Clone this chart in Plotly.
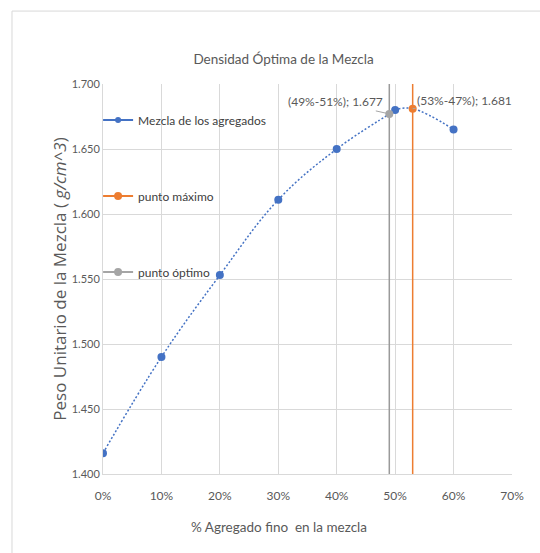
import plotly.graph_objects as go

# Measured unit weight of the aggregate blend vs. fine aggregate share
fino = [0.0, 0.10, 0.20, 0.30, 0.40, 0.50, 0.60]
peso = [1.416, 1.490, 1.553, 1.611, 1.650, 1.680, 1.665]

# Highlighted points
max_x, max_y, max_label = [0.53], [1.681], ["(53%-47%); 1.681"]
opt_x, opt_y, opt_label = [0.49], [1.677], ["(49%-51%); 1.677"]

x_ticks = [0.0, 0.1, 0.2, 0.3, 0.4, 0.5, 0.6, 0.7]
y_ticks = [1.400, 1.450, 1.500, 1.550, 1.600, 1.650, 1.700]
y_lo, y_hi = 1.400, 1.700

BLUE, ORANGE, GRAY = "#4472C4", "#ED7D31", "#A5A5A5"
TXT = "#595959"
GRID = "#D9D9D9"
FONT = "Lato, sans-serif"

# Smoothed curve passes through the blend points and the two highlighted points
curve = sorted(zip(fino + opt_x + max_x, peso + opt_y + max_y))
curve_x = [c[0] for c in curve]
curve_y = [c[1] for c in curve]

fig = go.Figure()

fig.add_trace(go.Scatter(
    x=curve_x, y=curve_y, mode="lines", showlegend=False, hoverinfo="skip",
    line=dict(color=BLUE, width=1.5, dash="2px,2px", shape="spline", smoothing=1.1),
))

fig.add_trace(go.Scatter(
    x=fino, y=peso, mode="markers", showlegend=False,
    marker=dict(color=BLUE, size=8),
))
# legend entry with line + marker glyph
fig.add_trace(go.Scatter(
    x=[None], y=[None], mode="lines+markers", name="Mezcla de los agregados",
    legendgroup="a",
    line=dict(color=BLUE, width=2), marker=dict(color=BLUE, size=6),
))

fig.add_trace(go.Scatter(
    x=max_x, y=max_y, mode="lines+markers", name="punto máximo",
    legendgroup="b",
    line=dict(color=ORANGE, width=2),
    marker=dict(color=ORANGE, size=8),
    error_y=dict(type="data", symmetric=False,
                 array=[y_hi - v for v in max_y],
                 arrayminus=[v - y_lo for v in max_y],
                 color=ORANGE, thickness=1.5, width=0),
))

fig.add_trace(go.Scatter(
    x=opt_x, y=opt_y, mode="lines+markers", name="punto óptimo",
    legendgroup="c",
    line=dict(color=GRAY, width=2),
    marker=dict(color=GRAY, size=8),
    error_y=dict(type="data", symmetric=False,
                 array=[y_hi - v for v in opt_y],
                 arrayminus=[v - y_lo for v in opt_y],
                 color="#9A9A9A", thickness=1.5, width=0),
))

# Data labels with leader lines
fig.add_annotation(x=opt_x[0], y=opt_y[0], text=opt_label[0], showarrow=True,
                   ax=-54, ay=-12, arrowhead=0, arrowwidth=1, arrowcolor="#A6A6A6",
                   font=dict(family=FONT, size=12, color=TXT))
fig.add_annotation(x=max_x[0], y=max_y[0], text=max_label[0], showarrow=True,
                   ax=52, ay=-8, arrowhead=0, arrowwidth=1, arrowcolor="#A6A6A6",
                   font=dict(family=FONT, size=12, color=TXT))

# X axis title (sits slightly left of the plot centre)
fig.add_annotation(x=0.43, y=-0.135, xref="paper", yref="paper",
                   text="% Agregado fino  en la mezcla", showarrow=False,
                   xanchor="center", yanchor="middle",
                   font=dict(family=FONT, size=13.5, color=TXT))

# Chart area frame (left and top edges)
fig.add_shape(type="line", xref="paper", yref="paper",
              x0=-0.2225, x1=-0.2225, y0=-0.3, y1=1.187,
              line=dict(color=GRID, width=1))
fig.add_shape(type="line", xref="paper", yref="paper",
              x0=-0.2225, x1=1.2, y0=1.187, y1=1.187,
              line=dict(color=GRID, width=1))

fig.update_layout(
    width=540, height=553,
    margin=dict(l=103, r=28, t=84, b=79),
    paper_bgcolor="white", plot_bgcolor="white",
    font=dict(family=FONT, color=TXT),
    title=dict(text="Densidad Óptima de la Mezcla", x=0.525, xanchor="center",
               y=0.892, yanchor="middle",
               font=dict(family=FONT, size=13.5, color=TXT)),
    legend=dict(x=-0.012, y=0.945, xanchor="left", yanchor="top",
                bgcolor="rgba(0,0,0,0)", tracegroupgap=57,
                traceorder="grouped",
                font=dict(family=FONT, size=12, color="#404040"),
                itemwidth=30),
    showlegend=True,
)

fig.update_xaxes(
    range=[0, 0.7], tickvals=x_ticks, tickformat=".0%",
    showgrid=True, gridcolor=GRID, gridwidth=1,
    showline=True, linecolor=GRID, zeroline=False,
    ticks="", ticklabelstandoff=11,
    tickfont=dict(family=FONT, size=12, color=TXT),
)
fig.update_yaxes(
    range=[y_lo, y_hi], tickvals=y_ticks, tickformat=".3f",
    showgrid=True, gridcolor=GRID, gridwidth=1,
    showline=True, linecolor=GRID, zeroline=False,
    ticks="", tickfont=dict(family=FONT, size=11, color=TXT),
    title=dict(text="Peso Unitario de la Mezcla ( <i>g/cm^3</i>)", standoff=0,
               font=dict(family="Open Sans, sans-serif", size=17, color=TXT)),
)

fig.write_html("out.html")
